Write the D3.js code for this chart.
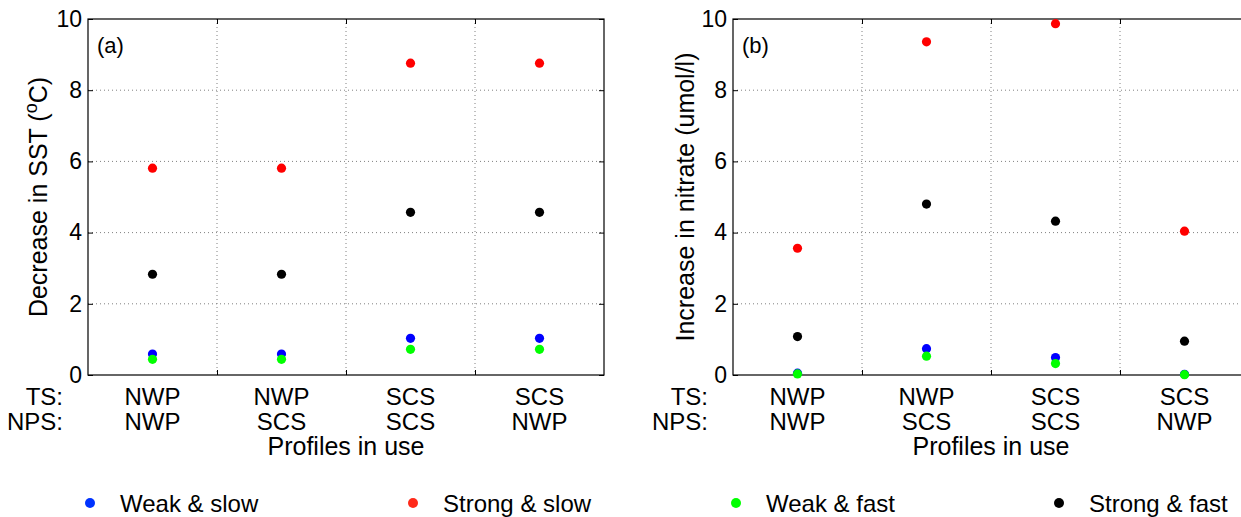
<!DOCTYPE html>
<html>
<head>
<meta charset="utf-8">
<script src="https://cdn.jsdelivr.net/npm/d3@7"></script>
<style>
  html, body { margin: 0; padding: 0; background: #fff; }
  svg { display: block; }
  text { font-family: "Liberation Sans", Arial, Helvetica, sans-serif; fill: #000; }
</style>
</head>
<body>
<svg id="chart" width="1241" height="517"></svg>
<script>
// ---------------- data ----------------
const categoriesTS  = ["NWP", "NWP", "SCS", "SCS"];
const categoriesNPS = ["NWP", "SCS", "SCS", "NWP"];
const seriesNames   = ["Weak & slow", "Strong & slow", "Weak & fast", "Strong & fast"];
const seriesColors  = ["#0000ff", "#ff0000", "#00ff00", "#000000"];
const legendColors  = ["#0033ff", "#ff2a1a", "#00ff00", "#000000"];

// Panel (a): decrease in SST (°C)
const sstWeakSlow   = [0.59, 0.59, 1.03, 1.03];
const sstStrongSlow = [5.81, 5.81, 8.76, 8.76];
const sstWeakFast   = [0.44, 0.44, 0.72, 0.72];
const sstStrongFast = [2.83, 2.83, 4.57, 4.57];

// Panel (b): increase in nitrate (umol/l)
const no3WeakSlow   = [0.05, 0.74, 0.49, 0.02];
const no3StrongSlow = [3.56, 9.36, 9.87, 4.04];
const no3WeakFast   = [0.03, 0.53, 0.32, 0.01];
const no3StrongFast = [1.08, 4.80, 4.32, 0.95];

const yTicks = [0, 2, 4, 6, 8, 10];
const rowLabels = ["TS:", "NPS:"];
const xAxisTitle = "Profiles in use";

// ---------------- layout ----------------
const svg = d3.select("#chart");
const FONT = 24, TICKFONT = 23, YLABFONT = 25;
const plotTop = 19, plotBottom = 375, plotW = 516;

function panel(left, series, tag, yLabelParts, yLabelX) {
  const g = svg.append("g");
  const x = d3.scaleLinear().domain([0.5, categoriesTS.length + 0.5]).range([left, left + plotW]);
  const y = d3.scaleLinear().domain([0, 10]).range([plotBottom, plotTop]);

  // grid
  g.append("g").selectAll("line").data(yTicks.filter(t => t > 0 && t < 10)).join("line")
    .attr("x1", left).attr("x2", left + plotW)
    .attr("y1", d => y(d)).attr("y2", d => y(d))
    .attr("stroke", "#808080").attr("stroke-width", 1).attr("stroke-dasharray", "1,3");
  const bounds = d3.range(1, categoriesTS.length).map(i => i + 0.5);
  g.append("g").selectAll("line").data(bounds).join("line")
    .attr("x1", d => x(d)).attr("x2", d => x(d))
    .attr("y1", plotTop).attr("y2", plotBottom)
    .attr("stroke", "#808080").attr("stroke-width", 1).attr("stroke-dasharray", "1,3");

  // box
  g.append("rect").attr("x", left).attr("y", plotTop).attr("width", plotW).attr("height", plotBottom - plotTop)
    .attr("fill", "none").attr("stroke", "#000").attr("stroke-width", 1.2);

  // y axis (left, inward ticks)
  const ya = g.append("g").attr("transform", `translate(${left},0)`)
    .call(d3.axisLeft(y).tickValues(yTicks).tickSize(-5).tickPadding(6).tickFormat(d3.format("d")));
  ya.select(".domain").remove();
  ya.selectAll("line").attr("stroke", "#000");
  ya.selectAll("text").attr("font-size", TICKFONT).style("font-family", "Liberation Sans, Arial, sans-serif");
  // y axis right ticks
  const yr = g.append("g").attr("transform", `translate(${left + plotW},0)`)
    .call(d3.axisRight(y).tickValues(yTicks).tickSize(-5).tickFormat(""));
  yr.select(".domain").remove();
  yr.selectAll("line").attr("stroke", "#000");
  // x ticks bottom/top
  const xb = g.append("g").attr("transform", `translate(0,${plotBottom})`)
    .call(d3.axisBottom(x).tickValues(bounds).tickSize(-5).tickFormat(""));
  xb.select(".domain").remove();
  xb.selectAll("line").attr("stroke", "#000");
  const xt = g.append("g").attr("transform", `translate(0,${plotTop})`)
    .call(d3.axisTop(x).tickValues(bounds).tickSize(-5).tickFormat(""));
  xt.select(".domain").remove();
  xt.selectAll("line").attr("stroke", "#000");

  // category labels
  const cats = categoriesTS.map((t, i) => ({ i: i + 1, ts: t, nps: categoriesNPS[i] }));
  g.append("g").selectAll("text").data(cats).join("text")
    .attr("x", d => x(d.i)).attr("y", 405).attr("text-anchor", "middle").attr("font-size", FONT)
    .text(d => d.ts);
  g.append("g").selectAll("text").data(cats).join("text")
    .attr("x", d => x(d.i)).attr("y", 430).attr("text-anchor", "middle").attr("font-size", FONT)
    .text(d => d.nps);
  g.append("g").selectAll("text").data(rowLabels).join("text")
    .attr("x", left - 25).attr("y", (d, i) => 405 + i * 25).attr("text-anchor", "end").attr("font-size", FONT)
    .text(d => d);
  g.append("text").attr("x", left + plotW / 2).attr("y", 455).attr("text-anchor", "middle")
    .attr("font-size", FONT + 1).text(xAxisTitle);

  // panel tag
  g.append("text").attr("x", left + 9).attr("y", 53).attr("font-size", 22).text(tag);

  // y label
  const yl = g.append("text").attr("transform", `translate(${yLabelX},${(plotTop + plotBottom) / 2}) rotate(-90)`)
    .attr("text-anchor", "middle").attr("font-size", YLABFONT);
  yLabelParts.forEach(p => {
    const ts = yl.append("tspan").text(p.t);
    if (p.sup) ts.attr("baseline-shift", "super").attr("font-size", YLABFONT * 0.72);
  });

  // points
  series.forEach((vals, s) => {
    g.append("g").selectAll("circle").data(vals).join("circle")
      .attr("cx", (d, i) => x(i + 1)).attr("cy", d => y(d)).attr("r", 4.6)
      .attr("fill", seriesColors[s]);
  });
}

panel(88, [sstWeakSlow, sstStrongSlow, sstWeakFast, sstStrongFast], "(a)",
  [{ t: "Decrease in SST (" }, { t: "o", sup: true }, { t: "C)" }], 47);
panel(733, [no3WeakSlow, no3StrongSlow, no3WeakFast, no3StrongFast], "(b)",
  [{ t: "Increase in nitrate (umol/l)" }], 694);

// legend
const legendX = [90, 413, 736, 1059];
const lg = svg.append("g").selectAll("g").data(seriesNames).join("g")
  .attr("transform", (d, i) => `translate(${legendX[i]},503)`);
lg.append("circle").attr("r", 5).attr("fill", (d, i) => legendColors[i]);
lg.append("text").attr("x", 30).attr("y", 9).attr("font-size", FONT).text(d => d);
</script>
</body>
</html>
